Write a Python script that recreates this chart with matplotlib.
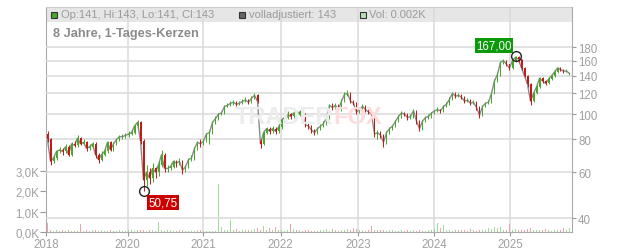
import numpy as np
import matplotlib
matplotlib.use("Agg")
import matplotlib.pyplot as plt
from matplotlib.patches import Rectangle
from matplotlib.ticker import NullLocator, FixedLocator

plt.rcParams['font.family'] = ['Liberation Sans', 'DejaVu Sans']

# ---------------- data ----------------
opens = [84,80,66,68,72,73,72,75,70,77,
         76,81,77,78,74,75,77,70,67,70,
         72,78,73,77,80,82,82,83,84,85,
         90,93,79,56,60,57,62,60,64,70,
         62,62,63,66,65,66,61,63,67,68,
         74,78,77,79,84,85,93,96,100,101,
         107,108,110,111,109,110,112,113,111,115,
         118,79,77,85,88,86,88,86,89,95,
         97,100,98,101,99,102,100,91,90,87,
         85,88,90,92,97,108,106,108,104,112,
         119,120,112,110,102,104,107,104,102,100,
         84,85,83,78,85,88,90,94,98,101,
         100,97,98,103,94,88,94,97,98,101,
         103,104,103,107,109,114,120,117,118,116,
         112,113,110,111,106,99,107,110,111,120,
         134,142,158,160,155,150,160,165,162,150,
         140,130,112,120,127,137,134,131,136,140,
         145,150,148,146,141]
closes = [80,66,68,72,73,72,75,70,77,76,
          81,77,78,74,75,77,70,67,70,72,
          78,73,77,80,82,82,83,84,85,90,
          93,79,56,60,57,62,60,64,70,62,
          62,63,66,65,66,61,63,67,68,74,
          78,77,79,84,85,93,96,100,101,107,
          108,110,111,109,110,112,113,111,115,118,
          112,77,85,88,86,88,86,89,95,97,
          100,98,101,99,102,100,91,90,87,85,
          88,90,92,97,108,106,108,104,112,119,
          120,112,110,102,104,107,104,102,100,84,
          85,83,78,85,88,90,94,98,101,100,
          97,98,103,94,88,94,97,98,101,103,
          104,103,107,109,114,120,117,118,116,112,
          113,110,111,106,99,107,110,111,120,134,
          142,158,160,155,150,160,165,162,150,140,
          130,112,120,127,137,134,131,136,140,145,
          150,148,146,146,143]
highs = [86,81,70,73,75,74,77,76,78,79,
         83,82,80,79,77,78,78,71,72,74,
         79,79,78,81,83,84,85,86,87,92,
         95,94,80,64,62,65,63,66,73,71,
         64,65,67,67,68,67,64,68,70,75,
         79,80,80,85,87,94,98,101,103,108,
         110,112,113,112,112,114,116,114,117,120,
         119,80,86,89,89,90,89,91,97,99,
         103,101,103,102,104,103,101,93,91,88,
         89,92,94,98,109,110,110,109,114,121,
         124,121,113,111,106,109,108,105,103,101,
         87,86,84,86,89,91,95,99,103,102,
         101,100,105,104,95,95,98,100,102,104,
         106,105,108,111,116,122,121,120,119,117,
         115,114,113,112,107,108,111,113,122,136,
         145,160,163,161,156,162,167,166,163,151,
         141,131,122,129,139,138,135,138,142,147,
         152,152,149,149,143]
lows = [78,64,65,67,71,70,71,69,69,75,
        75,76,76,72,73,74,68,65,66,69,
        71,72,72,76,79,80,81,82,83,84,
        88,77,50.75,53,54,55,57,58,63,60,
        60,61,62,63,64,59,60,62,66,67,
        73,75,76,78,77,84,92,95,99,100,
        106,107,108,107,108,109,111,109,110,114,
        110,74,76,84,84,85,84,85,88,94,
        96,96,97,97,98,98,89,88,85,83,
        84,87,89,91,96,104,105,102,103,111,
        117,110,108,100,101,103,102,100,98,82,
        80,81,75,77,84,87,89,93,97,98,
        95,96,97,92,86,87,93,96,97,100,
        102,101,102,106,108,113,115,116,114,110,
        111,108,109,104,97,98,106,109,110,119,
        133,140,156,153,148,149,158,158,148,138,
        127,108,111,119,126,132,129,130,135,139,
        144,146,144,145,141]
volumes_k = [0.45,0.1,0.05,0.08,0.05,0.1,0.06,0.08,0.05,0.07,
             0.05,0.4,0.06,0.1,0.05,0.08,0.12,0.05,0.1,0.06,
             0.05,0.1,0.07,0.05,0.08,0.06,0.05,0.1,0.08,0.05,
             0.1,0.12,0.08,0.06,0.1,0.08,0.05,0.5,0.1,0.06,
             0.08,0.1,0.05,0.06,0.08,0.1,0.05,0.07,0.06,0.05,
             0.08,0.1,0.06,0.05,0.07,0.05,0.06,2.35,0.25,0.1,
             0.12,0.6,0.08,0.15,0.06,0.1,0.12,0.08,0.1,0.15,
             0.2,0.08,0.3,0.1,0.2,0.1,0.25,0.08,0.12,0.05,
             0.1,0.4,0.15,0.08,0.1,0.06,0.08,0.1,0.05,0.07,
             0.06,0.08,0.1,0.15,0.05,0.15,0.08,0.06,0.1,0.08,
             0.15,0.1,0.2,0.15,0.08,0.1,0.06,0.08,0.3,0.1,
             0.12,0.08,0.1,0.06,0.08,0.1,0.05,0.07,0.12,0.06,
             0.1,0.05,0.08,0.06,0.1,0.07,0.05,0.08,0.1,0.15,
             0.45,0.2,0.35,0.1,0.08,0.06,0.1,0.08,0.12,0.1,
             0.05,0.15,0.08,0.06,0.1,0.08,0.12,0.2,0.15,0.25,
             0.2,0.25,0.12,0.1,0.4,0.1,0.15,0.08,0.12,0.1,
             0.15,0.2,0.1,0.12,0.08,0.1,0.15,0.08,0.06,0.1,
             0.12,0.08,0.2,0.1,0.2]
year_labels = ['2018', '2020', '2021', '2022', '2023', '2024', '2025']
year_start_idx = [-0.5, 26.73, 51.93, 77.73, 103.6, 128.93, 154.27]
price_ticks = [40, 60, 80, 100, 120, 140, 160, 180]
vol_ticks = [0, 1, 2, 3]
adj_close_last = 143
last_vol_k = 0.002

# ---------------- figure ----------------
W, H = 632, 253
fig = plt.figure(figsize=(W / 100, H / 100), dpi=100)
fig.patch.set_facecolor('white')

def fx(px):
    return px / W

def fy(py):
    return 1 - py / H

L, R, T, B = 46, 572, 8, 233
ax = fig.add_axes([fx(L), fy(B), (R - L) / W, (B - T) / H])
axp = ax.twinx()

o = np.array(opens, float)
c = np.array(closes, float)
h = np.array(highs, float)
lo = np.array(lows, float)
v = np.array(volumes_k, float)
idx = np.arange(len(c))
up = c >= o

GREEN = '#44a829'
RED = '#c81414'
GRID = '#dadada'
TXT = '#a0a0a0'

# volume
vcol = np.where(up, '#a3d99a', '#f0a3aa')
ax.bar(idx, v, width=0.5, color=vcol, linewidth=0, zorder=2)
ax.set_ylim(0, (B - T) / 20.3)
ax.set_xlim(-0.5, (R - L) / 3 - 0.5)

# header band
ax.add_patch(Rectangle((0, 1 - 14.7 / (B - T)), 1, 14.7 / (B - T),
                       transform=ax.transAxes, facecolor='#e6e6e6',
                       edgecolor='none', zorder=0.2))

ax.set_axisbelow(True)
ax.set_xticks(year_start_idx)
ax.set_xticklabels(year_labels)
ax.xaxis.grid(True, color=GRID, linewidth=1.1)
ax.yaxis.grid(False)
ax.set_yticks(vol_ticks)
ax.set_yticklabels([f"{t:.1f}K".replace('.', ',') for t in vol_ticks])
ax.tick_params(axis='y', direction='out', length=4, width=0.8, color='#999999',
               labelcolor=TXT, labelsize=8.3, pad=1)
ax.tick_params(axis='x', direction='out', length=3, width=0.8, color='#999999',
               labelcolor=TXT, labelsize=8.3, pad=1.5)

for s in ['left', 'bottom']:
    ax.spines[s].set_color('#aaaaaa')
ax.spines['top'].set_color('#cccccc')
ax.spines['right'].set_visible(False)

# price
axp.set_yscale('log')
axp.set_ylim(40 * np.exp((219.3 - B) / 113.7), 40 * np.exp((219.3 - T) / 113.7))
axp.yaxis.set_major_locator(FixedLocator(price_ticks))
axp.yaxis.set_minor_locator(NullLocator())
axp.set_yticklabels([str(t) for t in price_ticks])
axp.yaxis.grid(True, color=GRID, linewidth=1.1, zorder=0)
axp.set_axisbelow(True)
axp.tick_params(axis='y', which='major', direction='out', length=3, width=0.8,
                color='#999999', labelcolor=TXT, labelsize=8.3, pad=1.5)
for s in ['left', 'top', 'bottom']:
    axp.spines[s].set_visible(False)
axp.spines['right'].set_color('#aaaaaa')

# adjusted close line
axp.plot(idx, c, color='#8a8a8a', linewidth=1.0, zorder=2)

ccol = np.where(up, GREEN, RED)
axp.vlines(idx, lo, h, colors=ccol, linewidth=0.7, zorder=3)
axp.bar(idx, c - o, bottom=o, width=0.6, color=ccol, linewidth=0, zorder=3)

# extremes
imin = int(np.argmin(lo))
imax = int(np.argmax(h))
axp.plot([imin], [lo[imin]], 'o', mfc='none', mec='#222222', ms=7, mew=1, zorder=5)
axp.plot([imax], [h[imax]], 'o', mfc='none', mec='#222222', ms=7, mew=1, zorder=5)
axp.annotate(f"{lo[imin]:.2f}".replace('.', ','), (imin, lo[imin]),
             xytext=(14, -8.3), textcoords='offset points', ha='center', va='center',
             color='white', fontsize=8.3, zorder=6,
             bbox=dict(boxstyle='square,pad=0.12', fc='#cc0000', ec='none'))
axp.annotate(f"{h[imax]:.2f}".replace('.', ','), (imax, h[imax]),
             xytext=(-15.5, 7.6), textcoords='offset points', ha='center', va='center',
             color='white', fontsize=8.3, zorder=6,
             bbox=dict(boxstyle='square,pad=0.12', fc='#0a9a0a', ec='none'))

# watermark
fig.text(fx(333), fy(118), "TRADER", ha='right', va='center', fontsize=17,
         fontweight='bold', color='#ececec', zorder=0.5)
fig.text(fx(333), fy(118), "FOX", ha='left', va='center', fontsize=17,
         fontweight='bold', color='#fcdcdc', zorder=0.5)

# header legend
def square(px, color):
    fig.add_artist(Rectangle((fx(px), fy(19)), 6 / W, 6 / H, transform=fig.transFigure,
                             facecolor=color, edgecolor='#333333', linewidth=0.8))

square(50.5, '#44a829')
fig.text(fx(61), fy(15.5), f"Op:{opens[-1]}, Hi:{highs[-1]}, Lo:{lows[-1]}, Cl:{closes[-1]}",
         ha='left', va='center', fontsize=8, color='#9a9a9a')
square(238.5, '#666666')
fig.text(fx(249), fy(15.5), f"volladjustiert: {adj_close_last}",
         ha='left', va='center', fontsize=8, color='#9a9a9a')
square(360, '#b5e0b0')
fig.text(fx(369), fy(15.5), f"Vol: {last_vol_k:.3f}K",
         ha='left', va='center', fontsize=8, color='#9a9a9a')

fig.text(fx(53), fy(33.5), "8 Jahre, 1-Tages-Kerzen", ha='left', va='center',
         fontsize=9.2, fontweight='bold', color='#8a8a8a')

fig.savefig('out.png', dpi=100)
